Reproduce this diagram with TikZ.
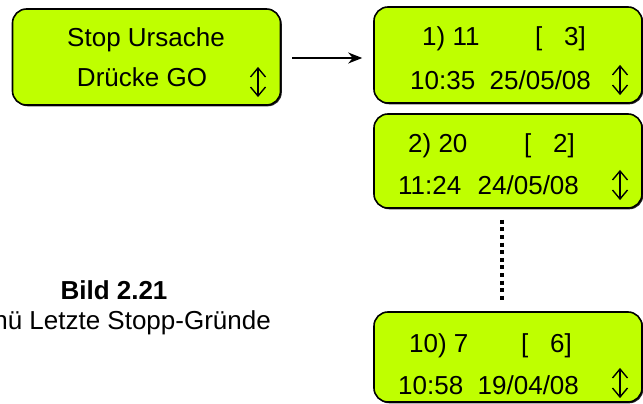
\documentclass[tikz,border=0pt]{standalone}
\usepackage{fontspec}
\setmainfont{Liberation Sans}
\usepackage{tikz}
\usetikzlibrary{arrows.meta,shadows}
\definecolor{lcdgreen}{RGB}{191,255,0}

\begin{document}
\begin{tikzpicture}[x=1pt,y=-1pt,
        lcd/.style={draw=black,line width=1.6pt,fill=lcdgreen,rounded corners=14pt,
            minimum width=268pt,inner sep=0pt,
            drop shadow={shadow xshift=1.3pt,shadow yshift=-1.3pt,fill=black,opacity=0.85}},
        txt/.style={anchor=base west,inner sep=0pt,font=\fontsize{26}{30}\selectfont}]
        \useasboundingbox (0,0) rectangle (643,404);
        % Start screen
        \node[lcd,minimum height=96pt] (start) at (146.5,57) {};
        \node[txt,anchor=base] (startA) at (146,47) {Stop Ursache};
        \node[txt,anchor=base] (startB) at (142,87) {Drücke GO};
        % Stop list screens
        \node[lcd,minimum height=96pt] (stopA) at (508,55) {};
        \node[lcd,minimum height=94pt] (stopB) at (508,161) {};
        \node[lcd,minimum height=90pt] (stopJ) at (508,357) {};
        \node[txt] (nrA) at (422,46) {1) 11};
        \node[txt] (cntA) at (535,46) {[\ \ \ 3]};
        \node[txt] (timeA) at (410,89) {10:35};
        \node[txt] (dateA) at (489.5,89) {25/05/08};
        \node[txt] (nrB) at (408,152) {2) 20};
        \node[txt] (cntB) at (524,152) {[\ \ \ 2]};
        \node[txt] (timeB) at (398,194) {11:24};
        \node[txt] (dateB) at (477.5,194) {24/05/08};
        \node[txt] (nrJ) at (409,352) {10) 7};
        \node[txt] (cntJ) at (521,352) {[\ \ \ 6]};
        \node[txt] (timeJ) at (398,394) {10:58};
        \node[txt] (dateJ) at (477.5,394) {19/04/08};
        % Scroll symbols
        \foreach \x/\y in {258/82,620/80,620/185,620/383} {
            \draw[line width=1.4pt] (\x,{\y-14}) -- (\x,{\y+14});
            \draw[line width=1.4pt] ({\x-7.5},{\y-5}) -- (\x,{\y-14}) -- ({\x+7.5},{\y-5});
            \draw[line width=1.4pt] ({\x-7.5},{\y+5}) -- (\x,{\y+14}) -- ({\x+7.5},{\y+5});
        }
        % Connections
        \draw[line width=1.5pt,-{Stealth[length=14pt,width=11pt]},shorten <=11pt,shorten >=11pt]
            ([yshift=-1pt]start.east) -- ([yshift=-1pt]start.east -| stopA.west);
        \draw[line width=4pt,dash pattern=on 4pt off 3.6pt]
            ([xshift=-6pt,yshift=-11pt]stopB.south) -- ([xshift=-6pt,yshift=9pt]stopJ.north);
        % Caption
        \node[inner sep=0pt,align=center,font=\fontsize{26}{30}\selectfont] (caption) at (114,308)
            {\textbf{Bild 2.21}\\Menü Letzte Stopp-Gründe};
    \end{tikzpicture}
\end{document}
